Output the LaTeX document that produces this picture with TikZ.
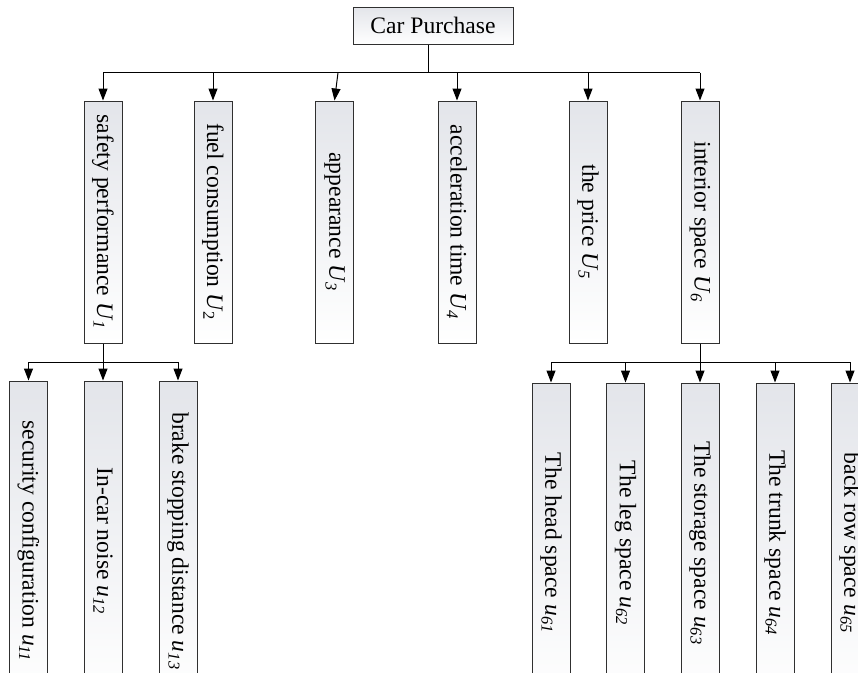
\documentclass[tikz,border=0pt]{standalone}
\usepackage{fontspec}
\setmainfont{Liberation Serif}
\usetikzlibrary{arrows.meta}
\definecolor{boxtop}{HTML}{E3E5EA}
\definecolor{boxline}{HTML}{303030}
\begin{document}
\begin{tikzpicture}[x=1pt,y=-1pt,
  every node/.style={font=\fontsize{23.6}{28}\selectfont},
  boxbase/.style={draw=boxline,line width=1pt,top color=boxtop,bottom color=white,inner sep=0pt},
  headbox/.style={boxbase,minimum width=160pt,minimum height=37pt},
  critbox/.style={boxbase,minimum width=38pt,minimum height=242pt},
  subbox/.style={boxbase,minimum width=38pt,minimum height=320pt},
  conn/.style={line width=1pt,draw=black},
  arr/.style={conn,-{Triangle[length=12pt,width=9pt]}}]
\useasboundingbox (0,0) rectangle (858,672);
\clip (0,0) rectangle (858,672);
\newcommand{\vt}[1]{\rotatebox{-90}{#1}}
% top
\node[headbox] (top) at (433,25.5) {Car Purchase};
% criteria
\node[critbox] (c1) at (103,222) {\vt{safety performance \textit{U}\textsubscript{\textit{1}}}};
\node[critbox] (c2) at (213,222) {\vt{fuel consumption \textit{U}\textsubscript{2}}};
\node[critbox] (c3) at (334.5,222) {\vt{appearance \textit{U}\textsubscript{\textit{3}}}};
\node[critbox] (c4) at (457,222) {\vt{acceleration time \textit{U}\textsubscript{\textit{4}}}};
\node[critbox] (c5) at (588,222) {\vt{the price \textit{U}\textsubscript{\textit{5}}}};
\node[critbox] (c6) at (700,222) {\vt{interior space \textit{U}\textsubscript{\textit{6}}}};
% sub criteria left
\node[subbox] (s11) at (28.5,541) {\vt{security configuration \textit{u}\textsubscript{\textit{11}}}};
\node[subbox] (s12) at (103,541) {\vt{In-car noise \textit{u}\textsubscript{\textit{12}}}};
\node[subbox] (s13) at (178,541) {\vt{brake stopping distance \textit{u}\textsubscript{\textit{13}}}};
% sub criteria right
\node[subbox] (s61) at (551,543) {\vt{The head space \textit{u}\textsubscript{\textit{61}}}};
\node[subbox] (s62) at (625.5,543) {\vt{The leg space \textit{u}\textsubscript{\textit{62}}}};
\node[subbox] (s63) at (700,543) {\vt{The storage space \textit{u}\textsubscript{\textit{63}}}};
\node[subbox] (s64) at (775,543) {\vt{The trunk space \textit{u}\textsubscript{\textit{64}}}};
\node[subbox] (s65) at (850,543) {\vt{back row space \textit{u}\textsubscript{\textit{65}}}};
% junctions
\coordinate (j0) at (428,72.5);
\coordinate (bL) at (103,72.5);
\coordinate (bR) at (700,72.5);
\coordinate (a3) at (338,72.5);
\coordinate (j1) at (103,362);
\coordinate (j6) at (700,362);
% connectors top level
\draw[conn] (top.south -| j0) -- (j0);
\draw[conn] (bL) -- (bR);
\draw[arr] (bL) -- (c1.north);
\draw[arr] (c2.north |- j0) -- (c2.north);
\draw[arr] (a3) -- (c3.north);
\draw[arr] (c4.north |- j0) -- (c4.north);
\draw[arr] (c5.north |- j0) -- (c5.north);
\draw[arr] (bR) -- (c6.north);
% connectors left group
\draw[conn] (c1.south) -- (j1);
\draw[conn] (s11.north |- j1) -- (s13.north |- j1);
\draw[arr] (s11.north |- j1) -- (s11.north);
\draw[arr] (j1) -- (s12.north);
\draw[arr] (s13.north |- j1) -- (s13.north);
% connectors right group
\draw[conn] (c6.south) -- (j6);
\draw[conn] (s61.north |- j6) -- (s65.north |- j6);
\draw[arr] (s61.north |- j6) -- (s61.north);
\draw[arr] (s62.north |- j6) -- (s62.north);
\draw[arr] (j6) -- (s63.north);
\draw[arr] (s64.north |- j6) -- (s64.north);
\draw[arr] (s65.north |- j6) -- (s65.north);
\end{tikzpicture}
\end{document}
